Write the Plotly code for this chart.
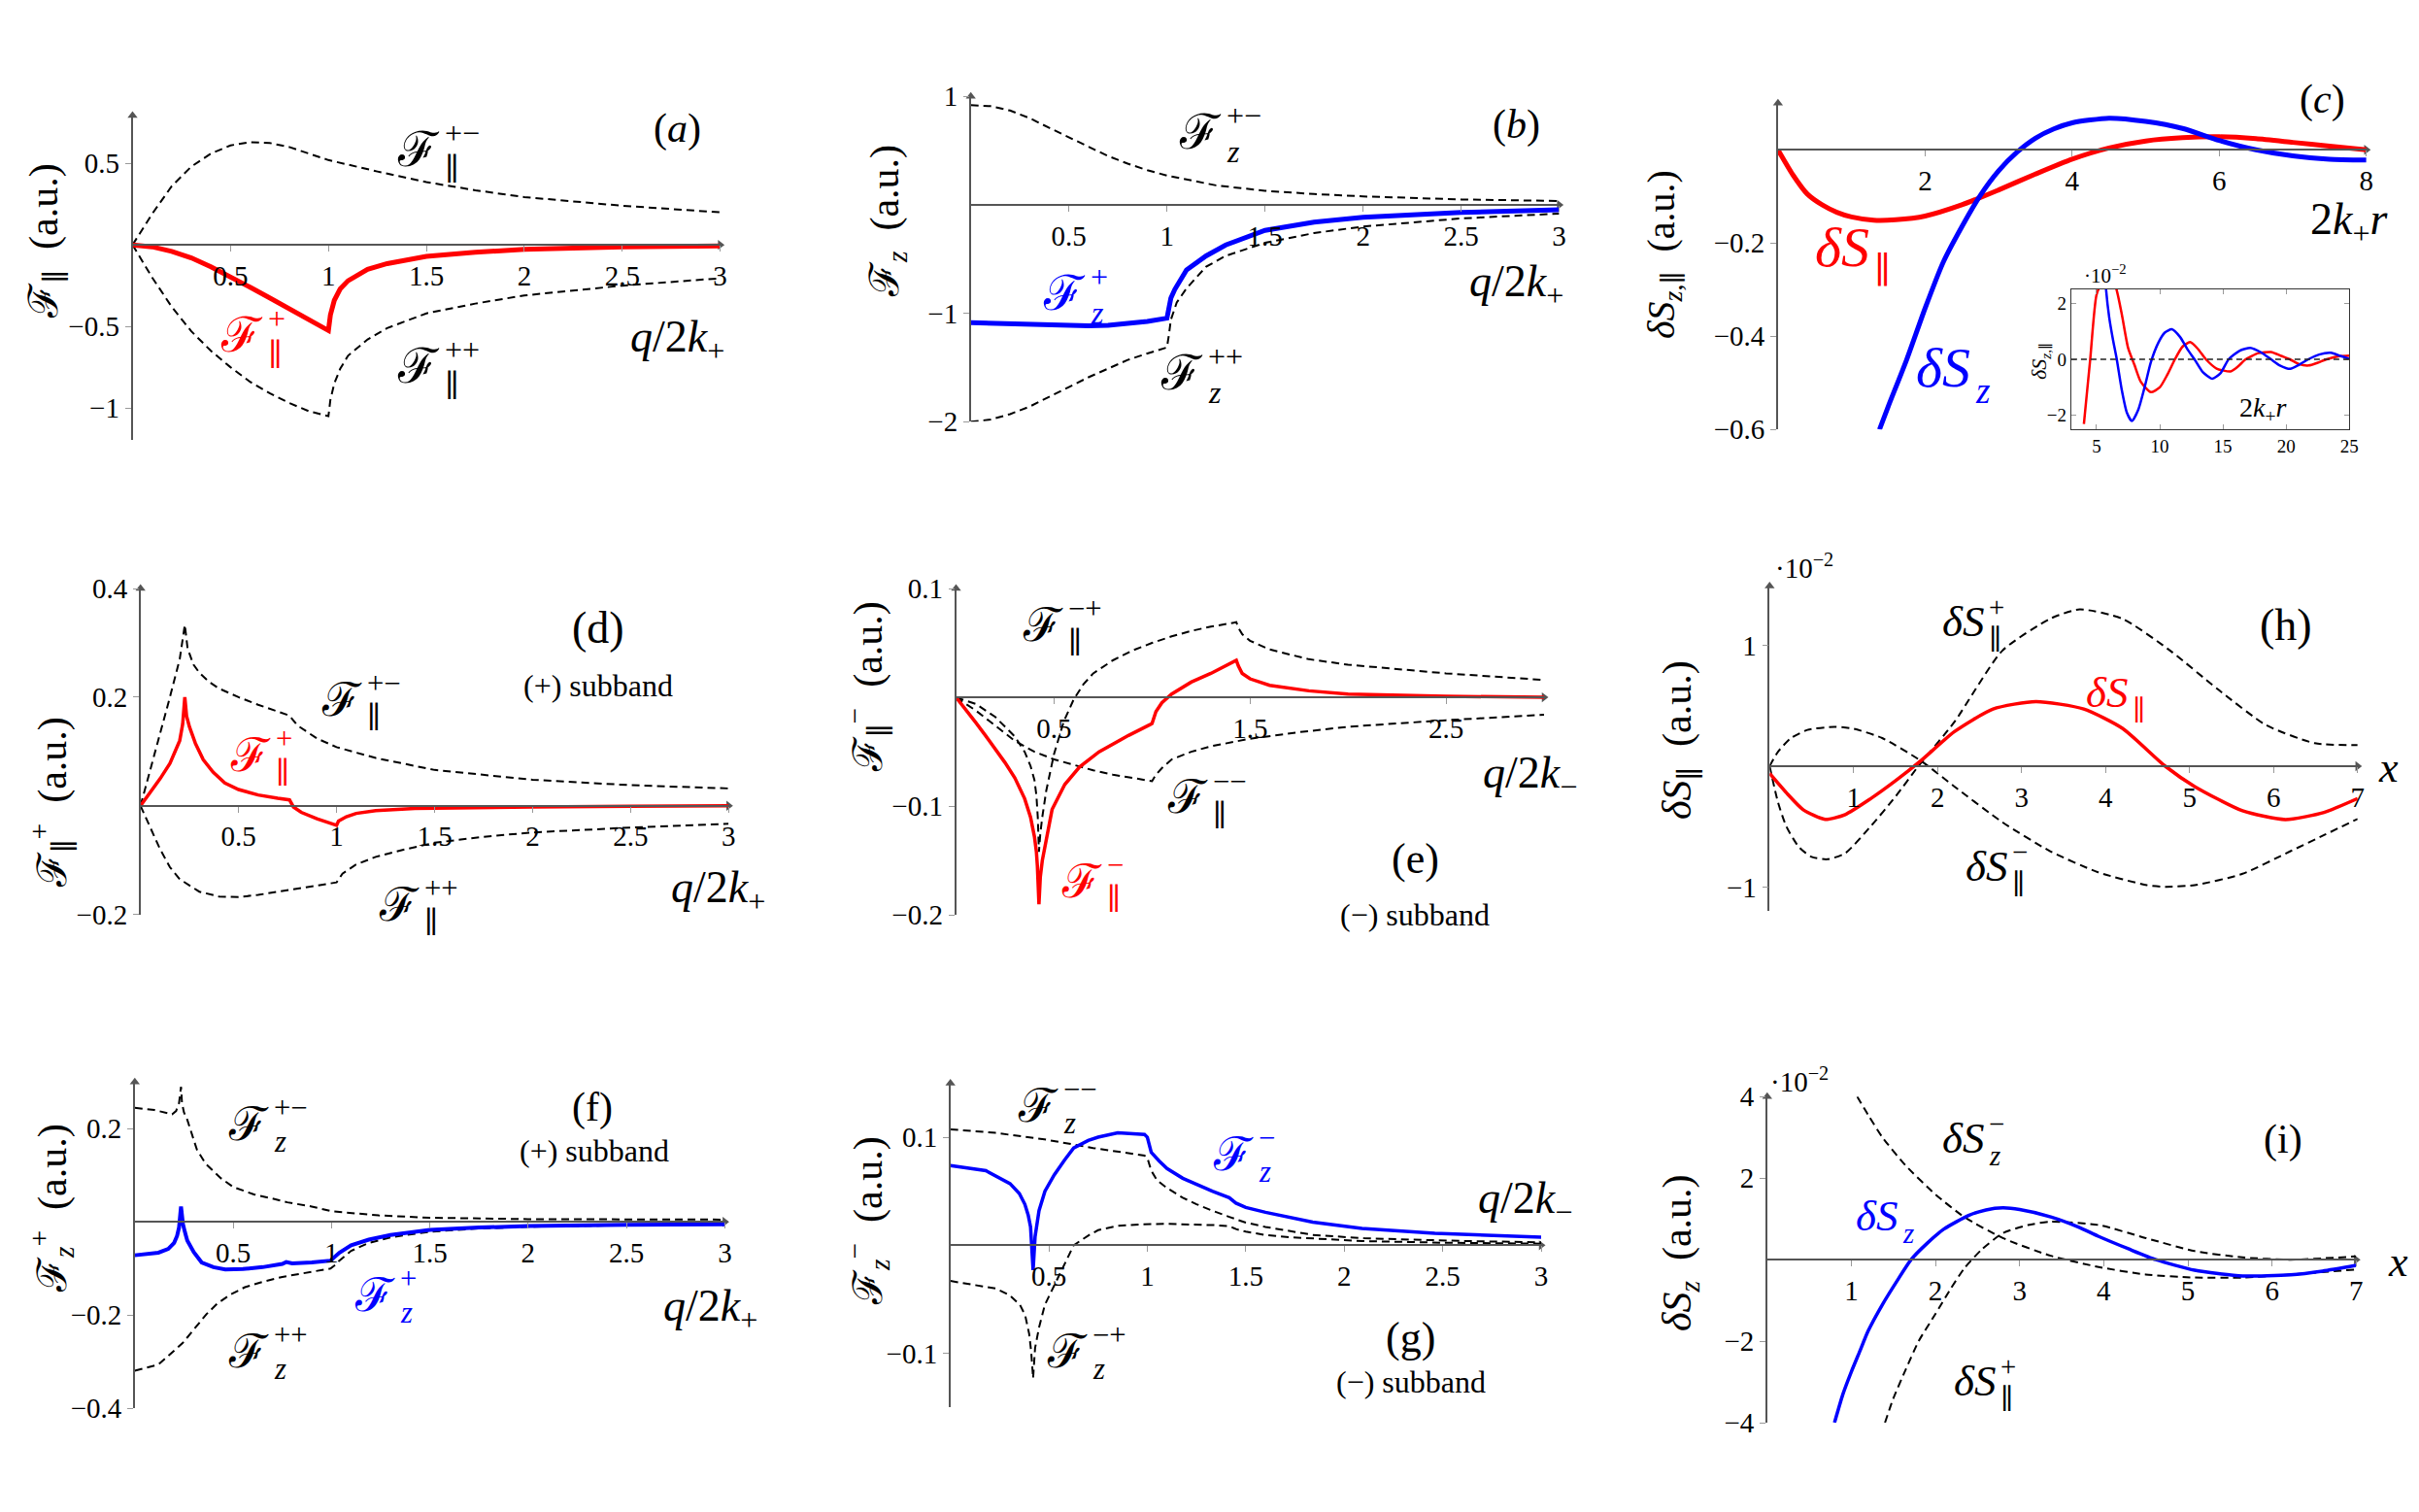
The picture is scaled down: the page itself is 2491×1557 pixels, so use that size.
import plotly.graph_objects as go

W, H = 2491, 1557
FONT = "Liberation Serif, DejaVu Serif, serif"
RED, BLUE, BLK = "#ff0000", "#0000ff", "#000000"
AX = "#555555"
DASH = "8px,5px"

# ------------------------------------------------------------------ data
# (a)
a_x_pm = [0, 0.1, 0.2, 0.3, 0.4, 0.5, 0.6, 0.7, 0.8, 0.9, 1.0, 1.25, 1.5, 1.75, 2.0, 2.5, 3.0]
a_pm = [0, 0.19, 0.36, 0.48, 0.56, 0.61, 0.63, 0.625, 0.6, 0.56, 0.52, 0.45, 0.385, 0.335, 0.293, 0.24, 0.2]
a_x_pp = [0, 0.1, 0.2, 0.3, 0.4, 0.5, 0.6, 0.7, 0.8, 0.9, 1.0, 1.01, 1.03, 1.06, 1.1, 1.2, 1.3, 1.5, 1.75, 2.0, 2.5, 3.0]
a_pp = [0, -0.2, -0.38, -0.53, -0.65, -0.75, -0.84, -0.91, -0.97, -1.02, -1.05, -0.95, -0.85, -0.76, -0.68, -0.58, -0.51, -0.42, -0.36, -0.31, -0.25, -0.205]
a_x_p = [0, 0.1, 0.2, 0.3, 0.4, 0.5, 0.6, 0.7, 0.8, 0.9, 1.0, 1.01, 1.03, 1.06, 1.1, 1.2, 1.3, 1.5, 1.75, 2.0, 2.5, 3.0]
a_p = [0, -0.012, -0.04, -0.08, -0.135, -0.195, -0.26, -0.325, -0.39, -0.46, -0.525, -0.43, -0.34, -0.27, -0.22, -0.15, -0.115, -0.07, -0.045, -0.028, -0.012, -0.006]

# (b)
b_x_pm = [0, 0.1, 0.2, 0.3, 0.4, 0.5, 0.6, 0.7, 0.8, 0.9, 1.0, 1.25, 1.5, 1.75, 2.0, 2.5, 3.0]
b_pm = [0.92, 0.91, 0.87, 0.8, 0.71, 0.625, 0.54, 0.45, 0.38, 0.32, 0.27, 0.18, 0.13, 0.1, 0.078, 0.05, 0.036]
b_x_pp = [0, 0.1, 0.2, 0.3, 0.4, 0.5, 0.6, 0.7, 0.8, 0.9, 1.0, 1.01, 1.02, 1.05, 1.1, 1.2, 1.3, 1.5, 1.75, 2.0, 2.5, 3.0]
b_pp = [-2.0, -1.98, -1.93, -1.86, -1.77, -1.68, -1.59, -1.51, -1.43, -1.37, -1.315, -1.2, -1.06, -0.9, -0.77, -0.57, -0.47, -0.35, -0.26, -0.2, -0.125, -0.08]
b_x_p = [0, 0.1, 0.2, 0.3, 0.4, 0.5, 0.6, 0.7, 0.8, 0.9, 1.0, 1.01, 1.02, 1.04, 1.07, 1.1, 1.2, 1.3, 1.5, 1.75, 2.0, 2.5, 3.0]
b_p = [-1.086, -1.09, -1.097, -1.105, -1.112, -1.116, -1.116, -1.11, -1.095, -1.075, -1.045, -0.93, -0.86, -0.78, -0.68, -0.6, -0.47, -0.37, -0.235, -0.16, -0.115, -0.07, -0.045]

# (c)
c_x_par = [0, 0.2, 0.4, 0.6, 0.8, 1.0, 1.3, 1.6, 2.0, 2.5, 3.0, 3.5, 4.0, 4.5, 5.0, 5.5, 6.0, 6.5, 7.0, 7.5, 8.0]
c_par = [0, -0.053, -0.095, -0.118, -0.134, -0.144, -0.151, -0.15, -0.142, -0.118, -0.086, -0.052, -0.02, 0.004, 0.019, 0.026, 0.028, 0.024, 0.016, 0.008, 0.0]
c_x_z = [1.38, 1.5, 1.75, 2.0, 2.25, 2.5, 2.75, 3.0, 3.25, 3.5, 3.75, 4.0, 4.5, 5.0, 5.5, 6.0, 6.5, 7.0, 7.5, 8.0]
c_z = [-0.6, -0.55, -0.45, -0.34, -0.24, -0.165, -0.098, -0.045, -0.005, 0.025, 0.045, 0.058, 0.068, 0.061, 0.046, 0.02, 0.0, -0.013, -0.02, -0.022]

# (c) inset, values in units of 1e-2
ins_x_par = [4, 4.5, 5, 5.5, 6, 6.5, 7, 7.5, 8, 8.5, 9.3, 10, 10.6, 11.2, 11.8, 12.4, 13.0, 13.65, 14.5, 15.6, 16.2, 16.8, 17.8, 18.8, 19.6, 20.3, 21, 21.8, 22.5, 23.2, 24.2, 25]
ins_par = [-2.3, 0, 2.3, 2.8, 2.9, 2.6, 1.6, 0.4, -0.2, -0.8, -1.17, -1.0, -0.55, 0.0, 0.45, 0.61, 0.38, 0.0, -0.33, -0.43, -0.25, 0.0, 0.22, 0.26, 0.12, 0.0, -0.17, -0.22, -0.12, 0.0, 0.11, 0.13]
ins_x_z = [5, 5.5, 5.75, 6, 6.3, 6.6, 7, 7.4, 7.8, 8.3, 8.8, 9.3, 9.9, 10.4, 10.95, 11.6, 12.2, 12.75, 13.4, 14.16, 14.8, 15.45, 16.3, 17.17, 18, 18.8, 19.5, 20.33, 21, 21.75, 22.6, 23.54, 24.3, 25]
ins_z = [6.1, 4.2, 2.5, 1.5, 0.7, 0.0, -1.1, -1.9, -2.2, -1.8, -1.0, -0.1, 0.6, 0.95, 1.07, 0.8, 0.35, 0.0, -0.45, -0.69, -0.5, 0.0, 0.3, 0.41, 0.25, 0.0, -0.22, -0.34, -0.2, 0.0, 0.17, 0.23, 0.12, 0.01]

# (d)
d_x_pm = [0, 0.05, 0.1, 0.15, 0.2, 0.226, 0.24, 0.27, 0.3, 0.35, 0.4, 0.5, 0.6, 0.7, 0.76, 0.8, 0.9, 1.0, 1.2, 1.5, 2.0, 2.5, 3.0]
d_pm = [0, 0.065, 0.135, 0.2, 0.27, 0.333, 0.29, 0.26, 0.245, 0.228, 0.216, 0.2, 0.186, 0.174, 0.166, 0.148, 0.124, 0.108, 0.088, 0.066, 0.048, 0.038, 0.032]
d_x_p = [0, 0.05, 0.1, 0.15, 0.2, 0.215, 0.226, 0.235, 0.25, 0.28, 0.32, 0.37, 0.43, 0.5, 0.6, 0.7, 0.76, 0.78, 0.82, 0.9, 0.99, 1.0, 1.01, 1.05, 1.1, 1.2, 1.4, 1.7, 2.0, 2.5, 3.0]
d_p = [0, 0.025, 0.05, 0.078, 0.12, 0.15, 0.2, 0.165, 0.145, 0.115, 0.085, 0.062, 0.042, 0.03, 0.02, 0.014, 0.011, -0.002, -0.012, -0.024, -0.035, -0.036, -0.028, -0.02, -0.014, -0.009, -0.005, -0.003, -0.002, -0.001, 0.0]
d_x_pp = [0, 0.05, 0.1, 0.15, 0.2, 0.3, 0.4, 0.5, 0.6, 0.7, 0.8, 0.9, 1.0, 1.03, 1.1, 1.2, 1.35, 1.5, 1.75, 2.0, 2.5, 3.0]
d_pp = [0, -0.04, -0.08, -0.113, -0.135, -0.158, -0.167, -0.168, -0.164, -0.158, -0.152, -0.147, -0.141, -0.125, -0.108, -0.094, -0.08, -0.068, -0.057, -0.049, -0.04, -0.033]

# (e)
e_x_m = [0, 0.05, 0.1, 0.15, 0.2, 0.25, 0.3, 0.35, 0.38, 0.4, 0.41, 0.415, 0.423, 0.43, 0.44, 0.455, 0.49, 0.555, 0.63, 0.73, 0.88, 0.99, 1.0, 1.02, 1.05, 1.1, 1.2, 1.3, 1.4, 1.43, 1.44, 1.46, 1.5, 1.6, 1.8, 2.0, 2.5, 3.0]
e_m = [0, -0.011, -0.023, -0.035, -0.047, -0.06, -0.074, -0.093, -0.11, -0.128, -0.142, -0.155, -0.19, -0.165, -0.15, -0.136, -0.103, -0.08, -0.064, -0.05, -0.035, -0.025, -0.024, -0.013, -0.005, 0.003, 0.014, 0.022, 0.031, 0.034, 0.029, 0.022, 0.017, 0.011, 0.006, 0.003, 0.001, 0.0]
e_x_mp = [0, 0.1, 0.2, 0.3, 0.35, 0.38, 0.4, 0.41, 0.417, 0.423, 0.43, 0.44, 0.46, 0.5, 0.55, 0.6, 0.65, 0.7, 0.8, 0.9, 1.0, 1.1, 1.2, 1.3, 1.4, 1.43, 1.44, 1.46, 1.5, 1.6, 1.8, 2.0, 2.5, 3.0]
e_mp = [0, -0.006, -0.018, -0.036, -0.05, -0.063, -0.076, -0.09, -0.11, -0.142, -0.125, -0.11, -0.086, -0.052, -0.022, -0.002, 0.012, 0.022, 0.034, 0.043, 0.05, 0.056, 0.061, 0.065, 0.068, 0.069, 0.064, 0.058, 0.052, 0.044, 0.035, 0.03, 0.022, 0.016]
e_x_mm = [0, 0.1, 0.2, 0.3, 0.4, 0.5, 0.6, 0.7, 0.8, 0.9, 0.99, 1.0, 1.02, 1.05, 1.1, 1.2, 1.3, 1.5, 1.75, 2.0, 2.5, 3.0]
e_mm = [0, -0.012, -0.026, -0.04, -0.05, -0.057, -0.062, -0.067, -0.071, -0.074, -0.077, -0.077, -0.071, -0.065, -0.057, -0.05, -0.045, -0.038, -0.032, -0.027, -0.021, -0.016]

# (f)
f_x_pm = [0, 0.1, 0.19, 0.21, 0.225, 0.235, 0.24, 0.25, 0.267, 0.29, 0.315, 0.36, 0.437, 0.5, 0.606, 0.7, 0.776, 0.9, 1.0, 1.24, 1.5, 2.0, 2.5, 3.0]
f_pm = [0.245, 0.24, 0.231, 0.238, 0.255, 0.29, 0.255, 0.235, 0.219, 0.19, 0.156, 0.125, 0.094, 0.075, 0.059, 0.05, 0.042, 0.033, 0.023, 0.014, 0.009, 0.006, 0.005, 0.005]
f_x_pp = [0, 0.12, 0.243, 0.3, 0.364, 0.42, 0.485, 0.56, 0.655, 0.75, 0.85, 0.995, 1.02, 1.04, 1.1, 1.19, 1.3, 1.5, 1.75, 2.0, 2.5, 3.0]
f_pp = [-0.319, -0.306, -0.26, -0.23, -0.198, -0.175, -0.156, -0.14, -0.128, -0.118, -0.111, -0.1, -0.092, -0.083, -0.062, -0.045, -0.033, -0.021, -0.014, -0.0104, -0.007, -0.005]
f_x_p = [0, 0.12, 0.17, 0.2, 0.215, 0.225, 0.235, 0.245, 0.255, 0.267, 0.3, 0.34, 0.4, 0.46, 0.55, 0.65, 0.75, 0.77, 0.8, 0.9, 0.995, 1.02, 1.04, 1.1, 1.19, 1.3, 1.5, 1.75, 2.0, 2.5, 3.0]
f_p = [-0.0715, -0.066, -0.058, -0.045, -0.03, -0.012, 0.033, -0.005, -0.022, -0.04, -0.065, -0.087, -0.097, -0.102, -0.101, -0.097, -0.09, -0.086, -0.089, -0.087, -0.083, -0.075, -0.066, -0.05, -0.038, -0.028, -0.017, -0.012, -0.009, -0.006, -0.005]

# (g)
g_x_mm = [0, 0.229, 0.477, 0.725, 0.986, 1.0, 1.02, 1.05, 1.1, 1.18, 1.25, 1.33, 1.42, 1.5, 1.6, 1.84, 2.1, 2.34, 2.6, 3.0]
g_mm = [0.1073, 0.104, 0.098, 0.09, 0.083, 0.081, 0.069, 0.06, 0.053, 0.044, 0.038, 0.032, 0.026, 0.021, 0.017, 0.0096, 0.0065, 0.005, 0.004, 0.0027]
g_x_mp = [0, 0.229, 0.3, 0.353, 0.38, 0.4, 0.41, 0.42, 0.43, 0.45, 0.48, 0.527, 0.58, 0.626, 0.7, 0.75, 0.85, 0.974, 1.1, 1.22, 1.35, 1.42, 1.45, 1.5, 1.6, 1.72, 1.9, 2.09, 2.5, 3.0]
g_mp = [-0.033, -0.04, -0.046, -0.055, -0.065, -0.082, -0.098, -0.123, -0.095, -0.076, -0.055, -0.037, -0.017, 0.0, 0.009, 0.014, 0.018, 0.0194, 0.0198, 0.0194, 0.0186, 0.0176, 0.015, 0.0126, 0.0095, 0.0075, 0.0055, 0.0039, 0.0024, 0.0015]
g_x_m = [0, 0.18, 0.303, 0.35, 0.378, 0.395, 0.407, 0.42, 0.43, 0.45, 0.48, 0.527, 0.58, 0.626, 0.7, 0.75, 0.85, 0.986, 1.0, 1.02, 1.06, 1.1, 1.18, 1.25, 1.33, 1.416, 1.45, 1.5, 1.6, 1.84, 2.09, 2.46, 3.0]
g_m = [0.0738, 0.069, 0.057, 0.048, 0.038, 0.028, 0.017, -0.023, 0.008, 0.032, 0.05, 0.065, 0.079, 0.09, 0.097, 0.1, 0.104, 0.1025, 0.1, 0.086, 0.078, 0.071, 0.062, 0.056, 0.05, 0.044, 0.039, 0.035, 0.0305, 0.0215, 0.0155, 0.011, 0.0075]

# (h), units of 1e-2
h_x_par = [0, 0.2, 0.4, 0.66, 0.9, 1.2, 1.5, 1.8, 2.2, 2.66, 3.17, 3.74, 4.2, 4.71, 5.06, 5.63, 6.14, 6.6, 7.0]
h_par = [-0.06, -0.22, -0.36, -0.44, -0.4, -0.27, -0.12, 0.045, 0.286, 0.473, 0.535, 0.473, 0.313, 0.0, -0.168, -0.369, -0.441, -0.382, -0.267]
h_x_p = [0, 0.1, 0.2, 0.35, 0.5, 0.686, 0.9, 1.2, 1.5, 1.77, 2.2, 2.77, 3.34, 3.69, 4.2, 4.77, 5.34, 5.91, 6.49, 7.0]
h_p = [0, -0.3, -0.5, -0.67, -0.75, -0.77, -0.72, -0.5, -0.25, 0.0, 0.366, 0.955, 1.22, 1.297, 1.22, 0.955, 0.634, 0.34, 0.19, 0.174]
h_x_m = [0, 0.1, 0.25, 0.45, 0.77, 1.0, 1.34, 1.8, 2.2, 2.77, 3.34, 3.91, 4.49, 4.71, 5.06, 5.63, 6.2, 6.6, 7.0]
h_m = [0, 0.12, 0.23, 0.3, 0.326, 0.31, 0.233, 0.045, -0.168, -0.463, -0.703, -0.877, -0.984, -0.997, -0.984, -0.89, -0.703, -0.57, -0.436]

# (i), units of 1e-2
i_x_z = [0.8, 0.9, 1.0, 1.1, 1.2, 1.37, 1.55, 1.71, 1.9, 2.1, 2.4, 2.6, 2.8, 3.0, 3.37, 3.7, 3.94, 4.3, 4.62, 5.08, 5.65, 6.22, 6.6, 7.0]
i_z = [-4.0, -3.3, -2.75, -2.25, -1.75, -1.1, -0.5, 0.0, 0.4, 0.75, 1.09, 1.22, 1.27, 1.23, 1.05, 0.8, 0.57, 0.26, 0.0, -0.26, -0.4, -0.37, -0.28, -0.14]
i_x_zm = [1.07, 1.2, 1.37, 1.65, 2.0, 2.34, 2.8, 3.37, 3.94, 4.5, 5.08, 5.65, 6.22, 7.0]
i_zm = [4.0, 3.55, 3.0, 2.3, 1.6, 1.05, 0.53, 0.095, -0.18, -0.365, -0.44, -0.44, -0.365, -0.24]
i_x_pp = [1.4, 1.5, 1.65, 1.8, 2.0, 2.17, 2.34, 2.55, 2.8, 3.1, 3.37, 3.94, 4.5, 5.08, 5.65, 6.22, 7.0]
i_pp = [-4.0, -3.4, -2.68, -2.0, -1.33, -0.75, -0.22, 0.25, 0.65, 0.85, 0.93, 0.85, 0.53, 0.21, 0.056, 0.0, 0.08]

# tick values
ticks_q = [0.5, 1, 1.5, 2, 2.5, 3]
ticks_q_e = [0.5, 1.5, 2.5]
ticks_r = [2, 4, 6, 8]
ticks_x7 = [1, 2, 3, 4, 5, 6, 7]
ticks_ins_x = [5, 10, 15, 20, 25]
ticks_ins_y = [-2, 0, 2]

# ------------------------------------------------------------------ layout helpers
def fmt(v):
    return ("\u2212" if v < 0 else "") + f"{abs(v):g}"

def P(px, py):
    return px / W, 1 - py / H

fig = go.Figure()
layout = dict(width=W, height=H, margin=dict(l=0, r=0, t=0, b=0),
              paper_bgcolor="white", plot_bgcolor="rgba(0,0,0,0)",
              showlegend=False, font=dict(family=FONT, color="black"))
anns = []
TICKFS = 29

def add_panel(n, box, xr, yr, xt, yt, fs=TICKFS):
    left, right, top, bottom = box
    s = "" if n == 1 else str(n)
    y0px = top + (yr[1] - 0) / (yr[1] - yr[0]) * (bottom - top)
    tf = dict(family=FONT, size=fs, color="black")
    layout["xaxis" + s] = dict(domain=[left / W, right / W], range=list(xr), anchor="free",
                               position=1 - y0px / H, showline=True, linecolor=AX, linewidth=1.5,
                               ticks="outside", ticklen=6, tickwidth=1.2, tickcolor="#999999",
                               tickmode="array", tickvals=xt, ticktext=[fmt(v) for v in xt],
                               tickfont=tf, showgrid=False, zeroline=False, automargin=False)
    layout["yaxis" + s] = dict(domain=[1 - bottom / H, 1 - top / H], range=list(yr), anchor="x" + s,
                               showline=True, linecolor=AX, linewidth=1.5,
                               ticks="outside", ticklen=6, tickwidth=1.2, tickcolor="#999999",
                               tickmode="array", tickvals=yt, ticktext=[fmt(v) for v in yt],
                               tickfont=tf, showgrid=False, zeroline=False, automargin=False)
    # arrow heads at the ends of the two axis lines
    fig.add_trace(go.Scatter(x=[xr[1], xr[0]], y=[0, yr[1]], mode="markers", xaxis="x" + s, yaxis="y" + s,
                             marker=dict(symbol=["triangle-right", "triangle-up"], size=9, color=AX),
                             cliponaxis=False, hoverinfo="skip", showlegend=False))

def line(n, x, y, color, width, dash=None, shape="linear"):
    s = "" if n == 1 else str(n)
    fig.add_trace(go.Scatter(x=x, y=y, mode="lines", xaxis="x" + s, yaxis="y" + s,
                             line=dict(color=color, width=width, dash=dash, shape=shape, smoothing=0.6),
                             hoverinfo="skip", showlegend=False))

def text(px, py, t, size, color=BLK, xanchor="center", angle=0):
    x, y = P(px, py)
    anns.append(dict(x=x, y=y, xref="paper", yref="paper", text=t, showarrow=False,
                     xanchor=xanchor, yanchor="middle", textangle=angle,
                     font=dict(family=FONT, size=size, color=color)))

def slabel(px, py, base, sup, sub, color, size):
    x, y = P(px, py)
    anns.append(dict(x=x, y=y, xref="paper", yref="paper", text=base, showarrow=False,
                     xanchor="right", yanchor="middle", font=dict(family=FONT, size=size, color=color)))
    if sup:
        anns.append(dict(x=x, y=y, xref="paper", yref="paper", text=sup, showarrow=False,
                         xanchor="left", yanchor="middle", xshift=1, yshift=0.34 * size,
                         font=dict(family=FONT, size=0.64 * size, color=color)))
    if sub:
        anns.append(dict(x=x, y=y, xref="paper", yref="paper", text=sub, showarrow=False,
                         xanchor="left", yanchor="middle", xshift=1, yshift=-0.40 * size,
                         font=dict(family=FONT, size=0.64 * size, color=color)))

# ------------------------------------------------------------------ panels
add_panel(1, (136.5, 741.6, 119.0, 453.0), (0, 3), (-1.196, 0.793), ticks_q, [0.5, -0.5, -1])
add_panel(2, (999.7, 1605.6, 99.3, 434.3), (0, 3), (-2, 1), ticks_q, [1, -1, -2])
add_panel(3, (1830.9, 2436.8, 106.3, 442.3), (0, 8), (-0.6, 0.1), ticks_r, [-0.2, -0.4, -0.6])
add_panel(4, (144.7, 750.3, 606.0, 941.7), (0, 3), (-0.2, 0.4), ticks_q, [0.4, 0.2, -0.2])
add_panel(5, (984.5, 1590.0, 606.0, 942.3), (0, 3), (-0.2, 0.1), ticks_q_e, [0.1, -0.1, -0.2])
add_panel(6, (138.8, 746.4, 1114.3, 1450.3), (0, 3), (-0.4, 0.3), ticks_q, [0.2, -0.2, -0.4])
add_panel(7, (978.7, 1587.0, 1115.4, 1449.3), (0, 3), (-0.15, 0.15), ticks_q, [0.1, -0.1])
add_panel(8, (1822.3, 2427.8, 603.5, 938.4), (0, 7), (-1.2, 1.49), ticks_x7, [1, -1])
add_panel(9, (1819.8, 2426.3, 1129.3, 1465.0), (0, 7), (-4, 4), ticks_x7, [4, 2, -2, -4])

# inset (boxed axes)
L, R, T, B = 2132.9, 2419.3, 297.7, 442.3
itf = dict(family=FONT, size=19, color="black")
layout["xaxis10"] = dict(domain=[L / W, R / W], range=[3, 25], anchor="y10", showline=True, mirror="ticks",
                         linecolor="#333333", linewidth=1.2, ticks="inside", ticklen=5, tickcolor="#999999",
                         tickmode="array", tickvals=ticks_ins_x, ticktext=[fmt(v) for v in ticks_ins_x],
                         tickfont=itf, showgrid=False, zeroline=False, automargin=False)
layout["yaxis10"] = dict(domain=[1 - B / H, 1 - T / H], range=[-2.5, 2.5], anchor="x10", showline=True, mirror="ticks",
                         linecolor="#333333", linewidth=1.2, ticks="inside", ticklen=5, tickcolor="#999999",
                         tickmode="array", tickvals=ticks_ins_y, ticktext=[fmt(v) for v in ticks_ins_y],
                         tickfont=itf, showgrid=False, zeroline=False, automargin=False)
layout["shapes"] = [dict(type="line", xref="x10 domain", x0=0, x1=1, yref="y10", y0=0, y1=0,
                         line=dict(color="#222222", width=1.5, dash="6px,4px"))]

# ------------------------------------------------------------------ curves
line(1, a_x_pm, a_pm, BLK, 2, DASH)
line(1, a_x_pp, a_pp, BLK, 2, DASH)
line(1, a_x_p, a_p, RED, 5)

line(2, b_x_pm, b_pm, BLK, 2, DASH)
line(2, b_x_pp, b_pp, BLK, 2, DASH)
line(2, b_x_p, b_p, BLUE, 5)

line(3, c_x_par, c_par, RED, 5, shape="spline")
line(3, c_x_z, c_z, BLUE, 5, shape="spline")

line(10, ins_x_par, ins_par, RED, 2.5, shape="spline")
line(10, ins_x_z, ins_z, BLUE, 2.5, shape="spline")

line(4, d_x_pm, d_pm, BLK, 2, DASH)
line(4, d_x_pp, d_pp, BLK, 2, DASH)
line(4, d_x_p, d_p, RED, 3.5)

line(5, e_x_mp, e_mp, BLK, 2, DASH)
line(5, e_x_mm, e_mm, BLK, 2, DASH)
line(5, e_x_m, e_m, RED, 3.5)

line(6, f_x_pm, f_pm, BLK, 2, DASH)
line(6, f_x_pp, f_pp, BLK, 2, DASH)
line(6, f_x_p, f_p, BLUE, 4)

line(7, g_x_mm, g_mm, BLK, 2, DASH)
line(7, g_x_mp, g_mp, BLK, 2, DASH)
line(7, g_x_m, g_m, BLUE, 3.5)

line(8, h_x_p, h_p, BLK, 2, DASH, "spline")
line(8, h_x_m, h_m, BLK, 2, DASH, "spline")
line(8, h_x_par, h_par, RED, 3.5, shape="spline")

line(9, i_x_zm, i_zm, BLK, 2, DASH, "spline")
line(9, i_x_pp, i_pp, BLK, 2, DASH, "spline")
line(9, i_x_z, i_z, BLUE, 3.5, shape="spline")

# ------------------------------------------------------------------ texts
F = "\u2131"
DS = "<i>\u03b4S</i>"
PAR = "\u2225"
Z = "<i>z</i>"
M = "\u2212"

FS_F = 50
# curve labels
slabel(455, 154, F, "+" + M, PAR, BLK, FS_F)
slabel(273, 345, F, "+", PAR, RED, FS_F)
slabel(455, 377, F, "++", PAR, BLK, FS_F)

slabel(1260, 136, F, "+" + M, Z, BLK, FS_F)
slabel(1120, 302, F, "+", Z, BLUE, FS_F)
slabel(1241, 384, F, "++", Z, BLK, FS_F)

slabel(1927, 255, DS, None, PAR, RED, 58)
slabel(2031, 379, DS, None, Z, BLUE, 58)

slabel(374.5, 720, F, "+" + M, PAR, BLK, 48)
slabel(281, 777, F, "+", PAR, RED, 48)
slabel(433.5, 931, F, "++", PAR, BLK, 48)

slabel(1097, 643, F, M + "+", PAR, BLK, 48)
slabel(1245.5, 821, F, M + M, PAR, BLK, 48)
slabel(1137, 907, F, M, PAR, RED, 48)

slabel(279, 1157, F, "+" + M, Z, BLK, 48)
slabel(409, 1333, F, "+", Z, BLUE, 48)
slabel(279, 1391, F, "++", Z, BLK, 48)

slabel(1092, 1138, F, M + M, Z, BLK, 48)
slabel(1293, 1188, F, M, Z, BLUE, 48)
slabel(1122, 1391, F, M + "+", Z, BLK, 48)

slabel(2045, 640, DS, "+", PAR, BLK, 45)
slabel(2193, 713, DS, None, PAR, RED, 45)
slabel(2069, 892, DS, M, PAR, BLK, 45)

slabel(2045, 1172, DS, M, Z, BLK, 45)
slabel(1956, 1252, DS, None, Z, BLUE, 45)
slabel(2057, 1422, DS, "+", PAR, BLK, 45)

# panel tags
text(697, 132, "(<i>a</i>)", 42)
text(1561, 129, "(<i>b</i>)", 42)
text(2391, 102, "(<i>c</i>)", 42)
text(616, 647, "(d)", 46)
text(616, 706, "(+) subband", 32)
text(1457, 885, "(e)", 44)
text(1457, 942, "(" + M + ") subband", 32)
text(610, 1140, "(f)", 42)
text(612, 1185, "(+) subband", 32)
text(1452, 1377, "(g)", 44)
text(1453, 1423, "(" + M + ") subband", 32)
text(2354, 643, "(h)", 46)
text(2351, 1173, "(i)", 42)

# axis variable labels
QP = "<i>q</i>/2<i>k</i><sub>+</sub>"
QM = "<i>q</i>/2<i>k</i><sub>" + M + "</sub>"
for (qx, qy, qt) in [(748, 350, QP), (1612, 293, QP), (790, 917, QP), (782, 1348, QP),
                     (1626, 799, QM), (1621, 1237, QM)]:
    text(qx, qy, qt, 46, xanchor="right")
text(2462, 229, "2<i>k</i><sub>+</sub><i>r</i>", 46, xanchor="right")
text(2459, 790, "<i>x</i>", 44)
text(2469, 1299, "<i>x</i>", 44)
text(1858, 583, "\u00b710<sup>" + M + "2</sup>", 29)
text(1853, 1112, "\u00b710<sup>" + M + "2</sup>", 29)

# inset texts
text(2168, 283, "\u00b710<sup>" + M + "2</sup>", 21)
text(2101, 372, DS + "<sub>" + Z + ",\u2225</sub>", 22, angle=-90)
text(2330, 421, "2<i>k</i><sub>+</sub><i>r</i>", 28)

# y-axis labels
YL = 42
text(47.5, 248, F + "<sub>" + PAR + "</sub>  (a.u.)", YL, angle=-90)
text(914, 228, F + "<sub>" + Z + "</sub>  (a.u.)", YL, angle=-90)
text(1713, 262, DS + "<sub>" + Z + "," + PAR + "</sub>  (a.u.)", 40, angle=-90)
text(53, 826, F + "<sub>" + PAR + "</sub><sup>+</sup>  (a.u.)", YL, angle=-90)
text(893, 707, F + "<sub>" + PAR + "</sub><sup>" + M + "</sup>  (a.u.)", YL, angle=-90)
text(53, 1244, F + "<sub>" + Z + "</sub><sup>+</sup>  (a.u.)", YL, angle=-90)
text(893, 1257, F + "<sub>" + Z + "</sub><sup>" + M + "</sup>  (a.u.)", YL, angle=-90)
text(1730, 762, DS + "<sub>" + PAR + "</sub>  (a.u.)", YL, angle=-90)
text(1730, 1290, DS + "<sub>" + Z + "</sub>  (a.u.)", YL, angle=-90)

layout["annotations"] = anns
fig.update_layout(**layout)
fig.write_html("out.html")
